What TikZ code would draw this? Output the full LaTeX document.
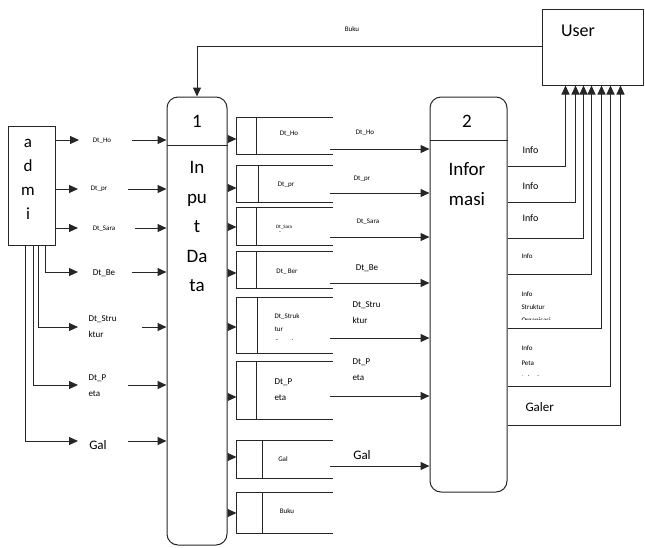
\documentclass[tikz,border=0pt]{standalone}
\usepackage{fontspec}
\setmainfont{Carlito}
\usetikzlibrary{arrows.meta}
\newcommand{\dstore}[4]{%
  \node[inner sep=0pt, minimum width=95pt, minimum height={#3-#2}] (#1) at (284.5,{(#2+#3)/2}) {};
  \draw (#1.north east) -- (#1.north west) -- (#1.south west) -- (#1.south east);
  \draw (#4,#2) -- (#4,#3);}
\begin{document}
\begin{tikzpicture}[x=1pt,y=-1pt, line width=1pt, draw=black!85,
  arr/.style={-{Triangle[length=9pt,width=8pt]}},
  proc/.style={draw, rounded corners=11pt, inner sep=0pt},
  tiny/.style={inner sep=0pt, font=\fontsize{7}{9}\selectfont, align=left},
  small/.style={inner sep=0pt, font=\fontsize{9}{16}\selectfont, align=left},
  mid/.style={inner sep=0pt, font=\fontsize{13}{15}\selectfont},
  big/.style={inner sep=0pt, font=\fontsize{19}{29.5}\selectfont, align=center}]
\useasboundingbox (0,0) rectangle (645,547);

% User
\node[draw, inner sep=0pt, minimum width=101pt, minimum height=76pt] (user) at (592.5,47) {};
\node[big, font=\fontsize{18}{20}\selectfont] (usert) at (578,31) {User};
\node[tiny] (buku) at (352,29) {Buku};

% admin
\node[draw, inner sep=0pt, minimum width=47pt, minimum height=119pt] (admin) at (31.5,185.5) {};
\node[inner sep=0pt, font=\fontsize{17}{24}\selectfont, align=center, anchor=north] (admint) at (28,139) {a\\d\\m\\i};

% processes
\node[proc, minimum width=60pt, minimum height=448pt] (p1) at (197,321) {};
\draw (p1.west |- 0,145) -- (p1.east |- 0,145);
\node[big] (p1n) at (197,121) {1};
\node[big, anchor=north] (p1t) at (197,161) {In\\pu\\t\\Da\\ta};

\node[proc, minimum width=77pt, minimum height=395pt] (p2) at (468.5,294.5) {};
\draw (p2.west |- 0,140) -- (p2.east |- 0,140);
\node[big] (p2n) at (467,121) {2};
\node[big, anchor=north] (p2t) at (467,162) {Infor\\masi};

% Buku flow
\draw[arr] (user.west |- 0,46) -| (p1.north);

% admin -> labels -> p1
\node[tiny] (l1) at (102,141) {Dt\_Ho};
\node[tiny] (l2) at (99,189) {Dt\_pr};
\node[tiny] (l3) at (104,229) {Dt\_Sara};
\node[small] (l4) at (104,273) {Dt\_Be};
\node[small, anchor=west] (l5) at (88,327) {Dt\_Stru\\ktur};
\node[small, anchor=west] (l6) at (88,386) {Dt\_P\\eta};
\node[mid] (l7) at (98,445) {Gal};

\coordinate (a1) at (79,140); \coordinate (a2) at (78,189); \coordinate (a3) at (78,228);
\coordinate (a4) at (78,272); \coordinate (a5) at (78,327); \coordinate (a6) at (78,385);
\coordinate (a7) at (78,441);
\draw[arr] (admin.east |- a1) -- (a1);
\draw[arr] (admin.east |- a2) -- (a2);
\draw[arr] (admin.east |- a3) -- (a3);
\draw[arr] ([xshift=13.5pt]admin.south) |- (a4);
\draw[arr] ([xshift=6.5pt]admin.south) |- (a5);
\draw[arr] ([xshift=1.5pt]admin.south) |- (a6);
\draw[arr] ([xshift=-6.5pt]admin.south) |- (a7);

\draw[arr] (132,140) -- (p1.west |- 0,140);
\draw[arr] (128,189) -- (p1.west |- 0,189);
\draw[arr] (135,228) -- (p1.west |- 0,228);
\draw[arr] (132,272) -- (p1.west |- 0,272);
\draw[arr] (142,327) -- (p1.west |- 0,327);
\draw[arr] (128,385) -- (p1.west |- 0,385);
\draw[arr] (128,441) -- (p1.west |- 0,441);

% data stores
\dstore{s1}{118}{154}{256}
\dstore{s2}{166}{202}{258}
\dstore{s3}{208}{245}{256}
\dstore{s4}{252}{288}{256}
\dstore{s5}{298}{353}{257}
\dstore{s6}{362}{419}{256}
\dstore{s7}{441}{478}{262}
\dstore{s8}{493}{533}{262}

\node[tiny] (t1) at (289,134) {Dt\_Ho};
\node[tiny] (t2) at (286,185) {Dt\_pr};
\node[tiny, font=\fontsize{5}{5}\selectfont] (t3) at (284,227) {Dt\_Sara};
\node[tiny, font=\fontsize{5}{5}\selectfont] (t3b) at (280,233) {--};
\node[tiny] (t4) at (287,272) {Dt\_\,Ber};
\begin{scope}
\clip (260,300) rectangle (330,339.5);
\node[tiny, font=\fontsize{7}{13}\selectfont, anchor=north west] (t5) at (274,313) {Dt\_Struk\\tur\\Organisa};
\end{scope}
\node[small, anchor=west] (t6) at (274,390) {Dt\_P\\eta};
\node[tiny] (t7) at (283,459) {Gal};
\node[tiny] (t8) at (287,511) {Buku};

% p1 -> stores
\draw[arr] (p1.east |- 0,139) -- (s1.west |- 0,139);
\draw[arr] (p1.east |- 0,188) -- (s2.west |- 0,188);
\draw[arr] (p1.east |- 0,227) -- (s3.west |- 0,227);
\draw[arr] (p1.east |- 0,273) -- (s4.west |- 0,273);
\draw[arr] (p1.east |- 0,327) -- (s5.west |- 0,327);
\draw[arr] (p1.east |- 0,397) -- (s6.west |- 0,397);
\draw[arr] (p1.east |- 0,457) -- (s7.west |- 0,457);
\draw[arr] (p1.east |- 0,513) -- (s8.west |- 0,513);

% stores -> p2
\draw[arr] (330,149) -- (p2.west |- 0,149);
\draw[arr] (330,193) -- (p2.west |- 0,193);
\draw[arr] (330,237) -- (p2.west |- 0,237);
\draw[arr] (330,283) -- (p2.west |- 0,283);
\draw[arr] (330,338) -- (p2.west |- 0,338);
\draw[arr] (330,396) -- (p2.west |- 0,396);
\draw[arr] (330,466) -- (p2.west |- 0,466);

\node[tiny] (m1) at (365,133) {Dt\_Ho};
\node[tiny] (m2) at (362,179) {Dt\_pr};
\node[tiny] (m3) at (368,222) {Dt\_Sara};
\node[small] (m4) at (367,268) {Dt\_Be};
\node[small, anchor=west] (m5) at (352,313) {Dt\_Stru\\ktur};
\node[small, anchor=west] (m6) at (352,370) {Dt\_P\\eta};
\node[mid] (m7) at (362,455) {Gal};

% p2 -> user
\draw[arr] (p2.east |- 0,166) -| ([xshift=-27pt]user.south);
\draw[arr] (p2.east |- 0,202) -| ([xshift=-17pt]user.south);
\draw[arr] (p2.east |- 0,238) -| ([xshift=-9pt]user.south);
\draw[arr] (p2.east |- 0,274) -| ([xshift=-1pt]user.south);
\draw[arr] (p2.east |- 0,328) -| ([xshift=9pt]user.south);
\draw[arr] (p2.east |- 0,386) -| ([xshift=18pt]user.south);
\draw[arr] (p2.east |- 0,425) -| ([xshift=28pt]user.south);

\node[small, font=\fontsize{10}{12}\selectfont, anchor=west] (i1) at (522,150) {Info};
\node[small, font=\fontsize{10}{12}\selectfont, anchor=west] (i2) at (522,186) {Info};
\node[small, font=\fontsize{10}{12}\selectfont, anchor=west] (i3) at (522,218) {Info};
\node[tiny, anchor=west] (i4) at (521,256) {Info};
\begin{scope}
\clip (515,285) rectangle (560,319);
\node[tiny, font=\fontsize{7}{13}\selectfont, anchor=north west] (i5) at (521,291) {Info\\Struktur\\Organisasi};
\end{scope}
\begin{scope}
\clip (515,340) rectangle (560,375);
\node[tiny, font=\fontsize{7}{15}\selectfont, anchor=north west] (i6) at (521,345) {Info\\Peta\\Lokasi};
\end{scope}
\node[mid, anchor=west] (i7) at (525,407) {Galer};
\end{tikzpicture}
\end{document}
